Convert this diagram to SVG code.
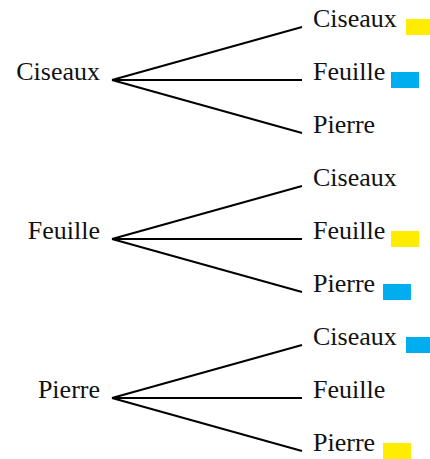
<svg xmlns="http://www.w3.org/2000/svg" width="430" height="459" viewBox="0 0 430 459">
<style>
text{font-family:"Liberation Serif","Times New Roman",serif;font-size:26px;fill:#111}
.root{text-anchor:end}
.c line{stroke:#000;stroke-width:2;stroke-linecap:butt}
.y{fill:#FFEC00}
.b{fill:#00AEEF}
</style>
<g class="c" id="connectors">
<line x1="112" y1="80" x2="302" y2="27"/>
<line x1="112" y1="80" x2="302" y2="80"/>
<line x1="112" y1="80" x2="302" y2="133"/>
<line x1="112" y1="239" x2="302" y2="186"/>
<line x1="112" y1="239" x2="302" y2="239"/>
<line x1="112" y1="239" x2="302" y2="292"/>
<line x1="112" y1="398" x2="302" y2="345"/>
<line x1="112" y1="398" x2="302" y2="398"/>
<line x1="112" y1="398" x2="302" y2="451"/>
</g>
<g id="root-ciseaux"><text class="root" x="100" y="80">Ciseaux</text></g>
<g id="root-feuille"><text class="root" x="100" y="239">Feuille</text></g>
<g id="root-pierre"><text class="root" x="100" y="398">Pierre</text></g>
<g id="c-ciseaux"><text x="313" y="27">Ciseaux</text><rect class="y" x="406" y="19" width="28" height="16"/></g>
<g id="c-feuille"><text x="313" y="80">Feuille</text><rect class="b" x="391" y="72" width="28" height="16"/></g>
<g id="c-pierre"><text x="313" y="133">Pierre</text></g>
<g id="f-ciseaux"><text x="313" y="186">Ciseaux</text></g>
<g id="f-feuille"><text x="313" y="239">Feuille</text><rect class="y" x="391" y="231" width="28" height="16"/></g>
<g id="f-pierre"><text x="313" y="292">Pierre</text><rect class="b" x="383" y="284" width="28" height="16"/></g>
<g id="p-ciseaux"><text x="313" y="345">Ciseaux</text><rect class="b" x="406" y="337" width="28" height="16"/></g>
<g id="p-feuille"><text x="313" y="398">Feuille</text></g>
<g id="p-pierre"><text x="313" y="451">Pierre</text><rect class="y" x="383" y="443" width="28" height="16"/></g>
</svg>
